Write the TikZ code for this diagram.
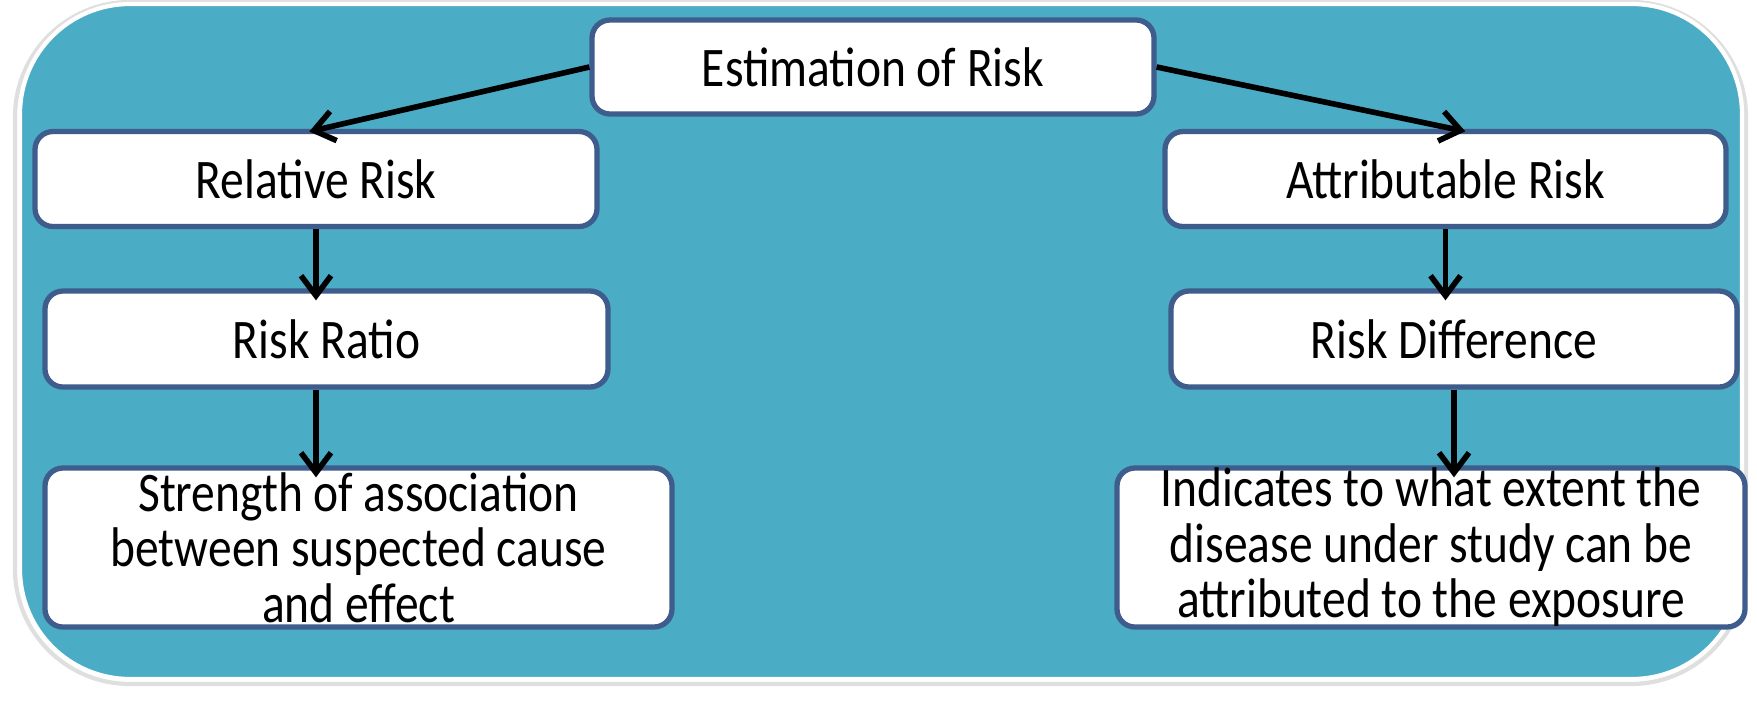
\documentclass[tikz,border=0pt]{standalone}
\usepackage{fontspec}
\setmainfont{Carlito}[FakeStretch=0.85]
\usetikzlibrary{arrows.meta}
\definecolor{fondo}{RGB}{75,172,198}
\definecolor{borde}{RGB}{62,92,140}

\begin{document}
\begin{tikzpicture}[
		caja/.style={draw=borde,fill=white,line width=1.5pt,rounded corners=0.18cm,inner sep=0pt,align=center,font=\fontsize{15.9}{15.8}\selectfont},
		flecha/.style={-{Straight Barb[length=2mm,width=3mm]},line width=1.6pt,shorten >=-1.2mm}]
		\useasboundingbox (0,0) rectangle (17.57,7);

		%Fondo
		\draw[gray!25,line width=1.2pt,rounded corners=1.15cm] (0.15,0.16) rectangle (17.46,6.98);
		\draw[white,fill=fondo,line width=1.2pt,rounded corners=1.1cm] (0.2,0.21) rectangle (17.42,6.96);

		%Nodos
		\node [caja,minimum width=5.62cm,minimum height=0.94cm] (estim) at (8.73,6.33) {Estimation of Risk};
		\node [caja,minimum width=5.62cm,minimum height=0.95cm] (rel) at (3.16,5.21) {Relative Risk};
		\node [caja,minimum width=5.61cm,minimum height=0.95cm] (atri) at (14.455,5.21) {Attributable Risk};
		\node [caja,minimum width=5.63cm,minimum height=0.96cm] (razon) at (3.265,3.61) {Risk Ratio};
		\node [caja,minimum width=5.66cm,minimum height=0.96cm] (dif) at (14.54,3.61) {Risk Difference};
		\node [caja,minimum width=6.27cm,minimum height=1.59cm] (fuerza) at (3.585,1.525) {Strength of association\\between suspected cause\\and effect};
		\node [caja,minimum width=6.28cm,minimum height=1.59cm] (indica) at (14.31,1.525) {Indicates to what extent the\\disease under study can be\\attributed to the exposure};

		%Arcos
		\draw[flecha] (estim.west)--([xshift=0.05cm]rel.north);
		\draw[flecha] (estim.east)--([xshift=0.08cm]atri.north);
		\draw[flecha] (rel)--(rel |- razon.north);
		\draw[flecha] (rel |- razon.south)--(rel |- fuerza.north);
		\draw[flecha] (atri)--(atri |- dif.north);
		\draw[flecha] (dif)--(dif |- indica.north);
\end{tikzpicture}
\end{document}
